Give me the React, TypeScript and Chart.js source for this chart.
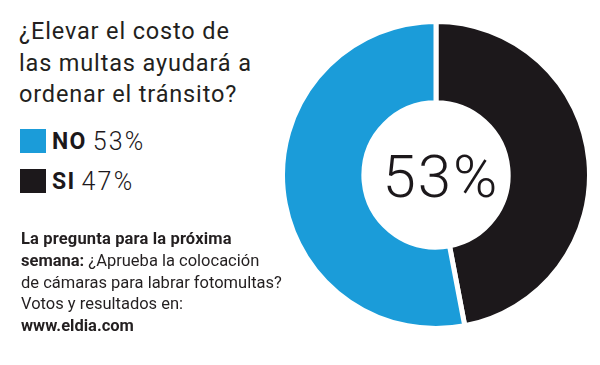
import React, { useEffect, useRef } from "react";
import { Chart, registerables } from "chart.js";

Chart.register(...registerables);

const categories = ["NO", "SI"];
const values = [53, 47];
const colors = ["#1b9cd9", "#1c181b"];
const centerLabel = "53%";
const titleLines = ["¿Elevar el costo de", "las multas ayudará a", "ordenar el tránsito?"];

const FONT = "Roboto, 'Liberation Sans', Arial, sans-serif";

export default function App() {
  const ref = useRef<HTMLCanvasElement | null>(null);

  useEffect(() => {
    document.body.style.margin = "0";
    const ctx = ref.current!;
    // draw SI first (clockwise from top), then NO
    const order = [1, 0];
    const chart = new Chart(ctx, {
      type: "doughnut",
      data: {
        labels: order.map((i) => categories[i]),
        datasets: [
          {
            data: order.map((i) => values[i]),
            backgroundColor: order.map((i) => colors[i]),
            borderColor: "#ffffff",
            borderWidth: 5,
            hoverOffset: 0,
          },
        ],
      },
      options: {
        animation: false,
        responsive: false,
        maintainAspectRatio: false,
        cutout: "47%",
        rotation: 0,
        layout: { padding: 0 },
        plugins: {
          legend: { display: false },
          tooltip: { enabled: false },
        },
        events: [],
      },
    });
    return () => chart.destroy();
  }, []);

  return (
    <div
      style={{
        position: "absolute",
        left: 0,
        top: 0,
        width: 600,
        height: 365,
        background: "#ffffff",
        overflow: "hidden",
        fontFamily: FONT,
        color: "#1c181b",
      }}
    >
      <canvas
        ref={ref}
        width={312}
        height={312}
        style={{ position: "absolute", left: 280, top: 19, width: 312, height: 312 }}
      />
      <div
        style={{
          position: "absolute",
          left: 19,
          top: 16,
          fontSize: 23.5,
          letterSpacing: 0.85,
          lineHeight: "31.5px",
          whiteSpace: "nowrap",
          color: "#231f20",
        }}
      >
        {titleLines.map((t, i) => (
          <div key={i}>{t}</div>
        ))}
      </div>
      {categories.map((c, i) => (
        <div
          key={c}
          style={{
            position: "absolute",
            left: 20,
            top: 125 + i * 40,
            height: 32,
            display: "flex",
            alignItems: "center",
            whiteSpace: "nowrap",
          }}
        >
          <div style={{ width: 26, height: 24, background: colors[i], marginRight: 6 }} />
          <span style={{ fontSize: 23, fontWeight: 700, letterSpacing: 1.3, marginRight: 6 }}>{c}</span>
          <span style={{ fontSize: 25, fontWeight: 300, letterSpacing: 2.2 }}>{values[i]}%</span>
        </div>
      ))}
      <div
        style={{
          position: "absolute",
          left: 21,
          top: 228,
          fontSize: 16.5,
          letterSpacing: 0,
          lineHeight: "21.75px",
          whiteSpace: "nowrap",
          color: "#231f20",
        }}
      >
        <div style={{ fontWeight: 700, letterSpacing: 0.15 }}>La pregunta para la próxima</div>
        <div>
          <span style={{ fontWeight: 700 }}>semana:</span> ¿Aprueba la colocación
        </div>
        <div>de cámaras para labrar fotomultas?</div>
        <div>Votos y resultados en:</div>
        <div style={{ fontWeight: 700 }}>www.eldia.com</div>
      </div>
      <div
        style={{
          position: "absolute",
          left: 341,
          width: 200,
          top: 141,
          height: 72,
          lineHeight: "72px",
          textAlign: "center",
          fontSize: 60,
          letterSpacing: 2,
          fontWeight: 300,
          color: "#1c181b",
        }}
      >
        {centerLabel}
      </div>
    </div>
  );
}
